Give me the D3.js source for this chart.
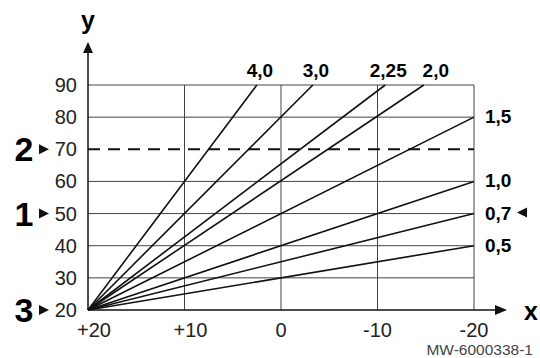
<!DOCTYPE html>
<html>
<head>
<meta charset="utf-8">
<script src="https://cdn.jsdelivr.net/npm/d3@7"></script>
<style>
  body { margin: 0; background: #fff; }
  svg { display: block; font-family: "Liberation Sans", Arial, sans-serif; }
</style>
</head>
<body>
<div id="chart"></div>
<script>
// heating curves: all start at (+20, 20), end either at x=-20 or at y=90
var curveLabels = ["0,5", "0,7", "1,0", "1,5", "2,0", "2,25", "3,0", "4,0"];
var curveEndX = [-20, -20, -20, -20, -14.8, -10.8, -3.3, 2.5];
var curveEndY = [40, 50, 60, 80, 90, 90, 90, 90];
var curveStart = [20, 20];

var xTicks = [20, 10, 0, -10, -20];
var xTickLabels = ["+20", "+10", "0", "-10", "-20"];
var yTicks = [20, 30, 40, 50, 60, 70, 80, 90];

var markerNums = ["2", "1", "3"];
var markerValues = [70, 50, 20];
var dashedValue = 70;
var pointedCurve = "0,7";

var width = 540, height = 358;

var svg = d3.select("#chart").append("svg")
  .attr("width", width)
  .attr("height", height);

var x = d3.scaleLinear().domain([20, -20]).range([88, 474]);
var y = d3.scaleLinear().domain([20, 90]).range([310, 85]);

// cut-off caption fragment at the very top
svg.append("text")
  .attr("x", 30).attr("y", -3)
  .attr("font-size", 14).attr("fill", "#555")
  .text("g");

// grid
svg.append("g").selectAll("line")
  .data(yTicks.filter(d => d > 20 && d != dashedValue))
  .enter().append("line")
  .attr("x1", x(20)).attr("x2", x(-20))
  .attr("y1", d => y(d)).attr("y2", d => y(d))
  .attr("stroke", "#444").attr("stroke-width", 1);

svg.append("g").selectAll("line")
  .data(xTicks.filter(d => d != 20))
  .enter().append("line")
  .attr("x1", d => x(d)).attr("x2", d => x(d))
  .attr("y1", y(20)).attr("y2", y(90))
  .attr("stroke", "#444").attr("stroke-width", 1);

// dashed line
svg.append("line")
  .attr("x1", x(20)).attr("x2", x(-20))
  .attr("y1", y(dashedValue)).attr("y2", y(dashedValue))
  .attr("stroke", "#111").attr("stroke-width", 2)
  .attr("stroke-dasharray", "12,8");

// axes with arrows
svg.append("line")
  .attr("x1", x(20)).attr("x2", x(20))
  .attr("y1", y(20)).attr("y2", 50)
  .attr("stroke", "#111").attr("stroke-width", 1.5);
svg.append("path")
  .attr("d", `M${x(20)},42 L${x(20) - 5},53 L${x(20) + 5},53 Z`)
  .attr("fill", "#111");
svg.append("text")
  .attr("x", x(20)).attr("y", 29)
  .attr("text-anchor", "middle")
  .attr("font-size", 25).attr("font-weight", "bold")
  .text("y");

svg.append("line")
  .attr("x1", x(20)).attr("x2", 498)
  .attr("y1", y(20)).attr("y2", y(20))
  .attr("stroke", "#111").attr("stroke-width", 1.5);
svg.append("path")
  .attr("d", `M507,${y(20)} L495,${y(20) - 5} L495,${y(20) + 5} Z`)
  .attr("fill", "#111");
svg.append("text")
  .attr("x", 531).attr("y", y(20) + 10)
  .attr("text-anchor", "middle")
  .attr("font-size", 25).attr("font-weight", "bold")
  .text("x");

// tick labels
svg.append("g").selectAll("text")
  .data(yTicks)
  .enter().append("text")
  .attr("x", 77).attr("y", d => y(d) + 7)
  .attr("text-anchor", "end")
  .attr("font-size", 20).attr("fill", "#222")
  .text(d => d);

svg.append("g").selectAll("text")
  .data(xTicks)
  .enter().append("text")
  .attr("x", (d, i) => x(d) + (xTickLabels[i][0] == "+" ? 6 : 0))
  .attr("y", 337)
  .attr("text-anchor", "middle")
  .attr("font-size", 20).attr("fill", "#222")
  .text((d, i) => xTickLabels[i]);

// markers on y axis
var mk = svg.append("g").selectAll("g")
  .data(markerValues)
  .enter().append("g");
mk.append("text")
  .attr("x", 24).attr("y", d => y(d) + 12)
  .attr("text-anchor", "middle")
  .attr("font-size", 34).attr("font-weight", "bold")
  .text((d, i) => markerNums[i]);
mk.append("path")
  .attr("d", d => `M39,${y(d) - 5} L49,${y(d)} L39,${y(d) + 5} Z`)
  .attr("fill", "#111");

// curves
var curves = curveLabels.map((l, i) => ({ label: l, ex: curveEndX[i], ey: curveEndY[i] }));

svg.append("g").selectAll("line")
  .data(curves)
  .enter().append("line")
  .attr("x1", x(curveStart[0])).attr("y1", y(curveStart[1]))
  .attr("x2", d => x(d.ex)).attr("y2", d => y(d.ey))
  .attr("stroke", "#111").attr("stroke-width", 1.6);

// curve labels
var topLabels = curves.filter(d => d.ey == 90);
svg.append("g").selectAll("text")
  .data(topLabels)
  .enter().append("text")
  .attr("x", d => x(d.ex) + (d.label == "2,0" ? 12 : 3))
  .attr("y", 77)
  .attr("text-anchor", "middle")
  .attr("font-size", 19).attr("font-weight", "bold")
  .text(d => d.label);

var sideLabels = curves.filter(d => d.ey < 90);
svg.append("g").selectAll("text")
  .data(sideLabels)
  .enter().append("text")
  .attr("x", 485)
  .attr("y", d => y(d.ey) + 6)
  .attr("font-size", 19).attr("font-weight", "bold")
  .text(d => d.label);

var pc = curves.find(d => d.label == pointedCurve);
svg.append("path")
  .attr("d", `M517,${y(pc.ey) - 1} L527,${y(pc.ey) - 6} L527,${y(pc.ey) + 4} Z`)
  .attr("fill", "#111");

// reference code
svg.append("text")
  .attr("x", 533).attr("y", 355)
  .attr("text-anchor", "end")
  .attr("font-size", 15.5).attr("fill", "#444")
  .text("MW-6000338-1");
</script>
</body>
</html>
